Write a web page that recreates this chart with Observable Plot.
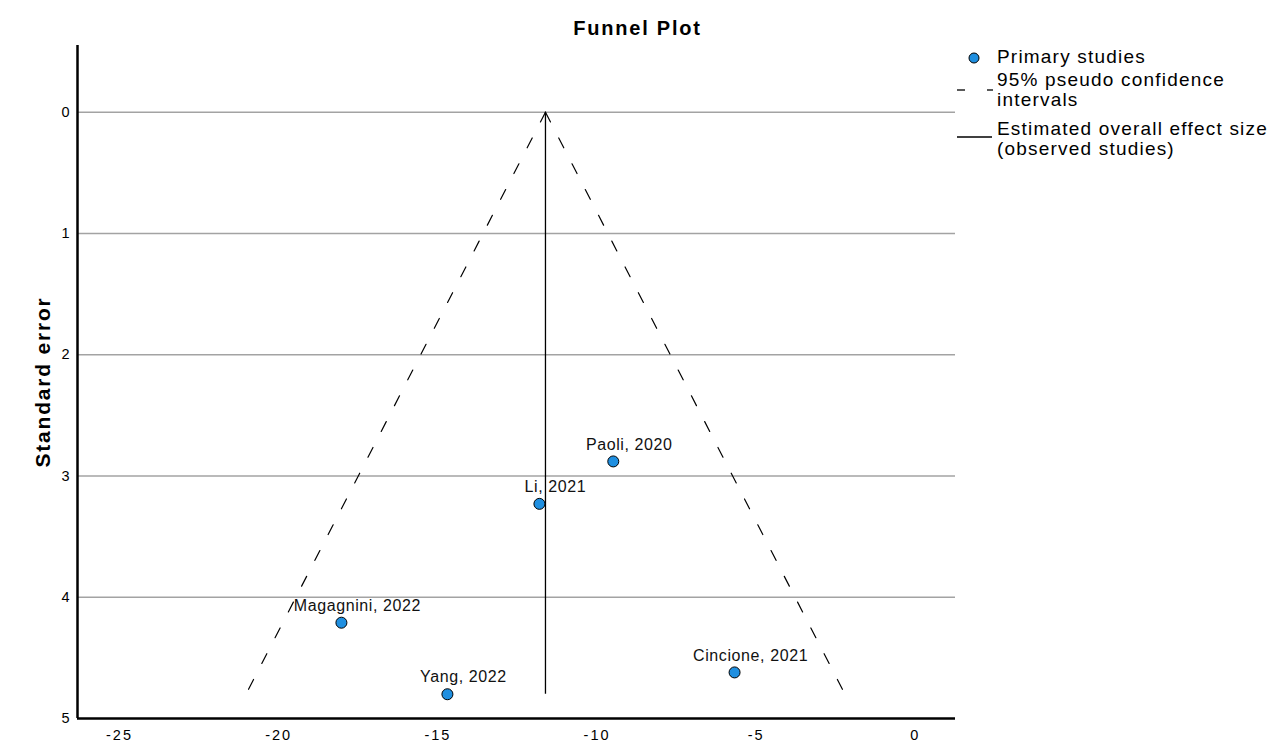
<!DOCTYPE html>
<html>
<head>
<meta charset="utf-8">
<script src="https://cdn.jsdelivr.net/npm/d3@7"></script>
<script src="https://cdn.jsdelivr.net/npm/@observablehq/plot@0.6"></script>
<style>
  html, body { margin: 0; padding: 0; background: #fff; overflow: hidden; }
  #wrap { position: relative; width: 1275px; height: 744px; font-family: "Liberation Sans", Arial, sans-serif; color: #000; }
  #title { position: absolute; top: 17px; left: 0; width: 1275px; text-align: center; font-weight: bold; font-size: 20px; letter-spacing: 1.8px; }
  #chart { position: absolute; top: 0; left: 0; }
  #chart svg { font-family: "Liberation Sans", Arial, sans-serif; }
  #chart svg [aria-label="x-axis tick label"] text { letter-spacing: 2px; }
  #chart svg [aria-label="text"] text { letter-spacing: 0.6px; }
  #legend { position: absolute; left: 955px; top: 47px; font-size: 19px; line-height: 20px; letter-spacing: 1.2px; white-space: nowrap; }
  .item { position: relative; padding-left: 42px; }
  .item svg { position: absolute; left: 0; top: 0; }
</style>
</head>
<body>
<div id="wrap">
  <div id="chart"></div>
  <div id="title">Funnel Plot</div>
  <div id="legend"></div>
</div>
<script>
// ---- data ----
const studies = ["Paoli, 2020", "Li, 2021", "Magagnini, 2022", "Cincione, 2021", "Yang, 2022"];
const effects = [-9.49, -11.81, -18.03, -5.68, -14.70];
const stdErrors = [2.88, 3.23, 4.21, 4.62, 4.80];
const overallEffect = -11.62;
const xTicks = [-25, -20, -15, -10, -5, 0];
const yTicks = [0, 1, 2, 3, 4, 5];
const legendLabels = ["Primary studies", "95% pseudo confidence intervals", "Estimated overall effect size (observed studies)"];

const points = studies.map((s, i) => ({study: s, effect: effects[i], se: stdErrors[i]}));
const seMax = d3.max(stdErrors);
const funnel = [
  {side: "L", x: overallEffect, y: 0},
  {side: "L", x: overallEffect - 1.96 * seMax, y: seMax},
  {side: "R", x: overallEffect, y: 0},
  {side: "R", x: overallEffect + 1.96 * seMax, y: seMax}
];
const xDomain = [-26.32, 1.26];
const yDomain = [-0.55, 5];

const chart = Plot.plot({
  width: 960,
  height: 744,
  marginLeft: 77,
  marginRight: 5,
  marginTop: 45,
  marginBottom: 26,
  style: {fontFamily: "Liberation Sans, Arial, sans-serif", background: "transparent"},
  x: {domain: xDomain},
  y: {domain: yDomain, reverse: true},
  marks: [
    Plot.ruleY(yTicks.filter(t => t < yDomain[1]), {stroke: "#a3a3a3", strokeWidth: 1.5}),
    Plot.line(funnel, {x: "x", y: "y", z: "side", stroke: "black", strokeWidth: 1.2, strokeDasharray: "11,18"}),
    Plot.ruleX([overallEffect], {y1: 0, y2: seMax, stroke: "black", strokeWidth: 1.3}),
    Plot.ruleX([xDomain[0]], {stroke: "black", strokeWidth: 2.5}),
    Plot.ruleY([yDomain[1]], {stroke: "black", strokeWidth: 2.5}),
    Plot.dot(points, {x: "effect", y: "se", r: 5.5, fill: "#1f8fe0", stroke: "black", strokeWidth: 1}),
    Plot.text(points, {x: "effect", y: "se", text: "study", dx: 16, dy: -17, fontSize: 16, fill: "#111"}),
    Plot.axisX(xTicks, {tickSize: 0, tickPadding: 11, fontSize: 14.5, tickFormat: d => String(d), label: null}),
    Plot.axisY(yTicks, {tickSize: 0, tickPadding: 8, fontSize: 14.5, tickFormat: d => String(d), label: null}),
    Plot.text(["Standard error"], {frameAnchor: "left", dx: -34, rotate: -90, textAnchor: "middle", fontSize: 21, fontWeight: "bold", className: "ytitle"})
  ]
});
document.getElementById("chart").appendChild(chart);
chart.querySelectorAll(".ytitle text").forEach(t => t.style.letterSpacing = "1.8px");

// ---- legend ----
const legend = document.getElementById("legend");
const markers = [
  `<svg width="40" height="22"><circle cx="19" cy="11" r="5" fill="#1f8fe0" stroke="black" stroke-width="1"/></svg>`,
  `<svg width="40" height="40"><line x1="2" y1="20" x2="10" y2="20" stroke="black" stroke-width="1.3"/><line x1="32" y1="20" x2="38" y2="20" stroke="black" stroke-width="1.3"/></svg>`,
  `<svg width="40" height="40"><line x1="2" y1="18" x2="37" y2="18" stroke="black" stroke-width="1.5"/></svg>`
];
const texts = [
  legendLabels[0],
  "95% pseudo confidence<br>intervals",
  "Estimated overall effect size<br>(observed studies)"
];
const margins = ["0px", "3px", "9px"];
texts.forEach((t, i) => {
  const div = document.createElement("div");
  div.className = "item";
  div.style.marginTop = margins[i];
  div.innerHTML = markers[i] + `<span>${t}</span>`;
  legend.appendChild(div);
});
</script>
</body>
</html>
